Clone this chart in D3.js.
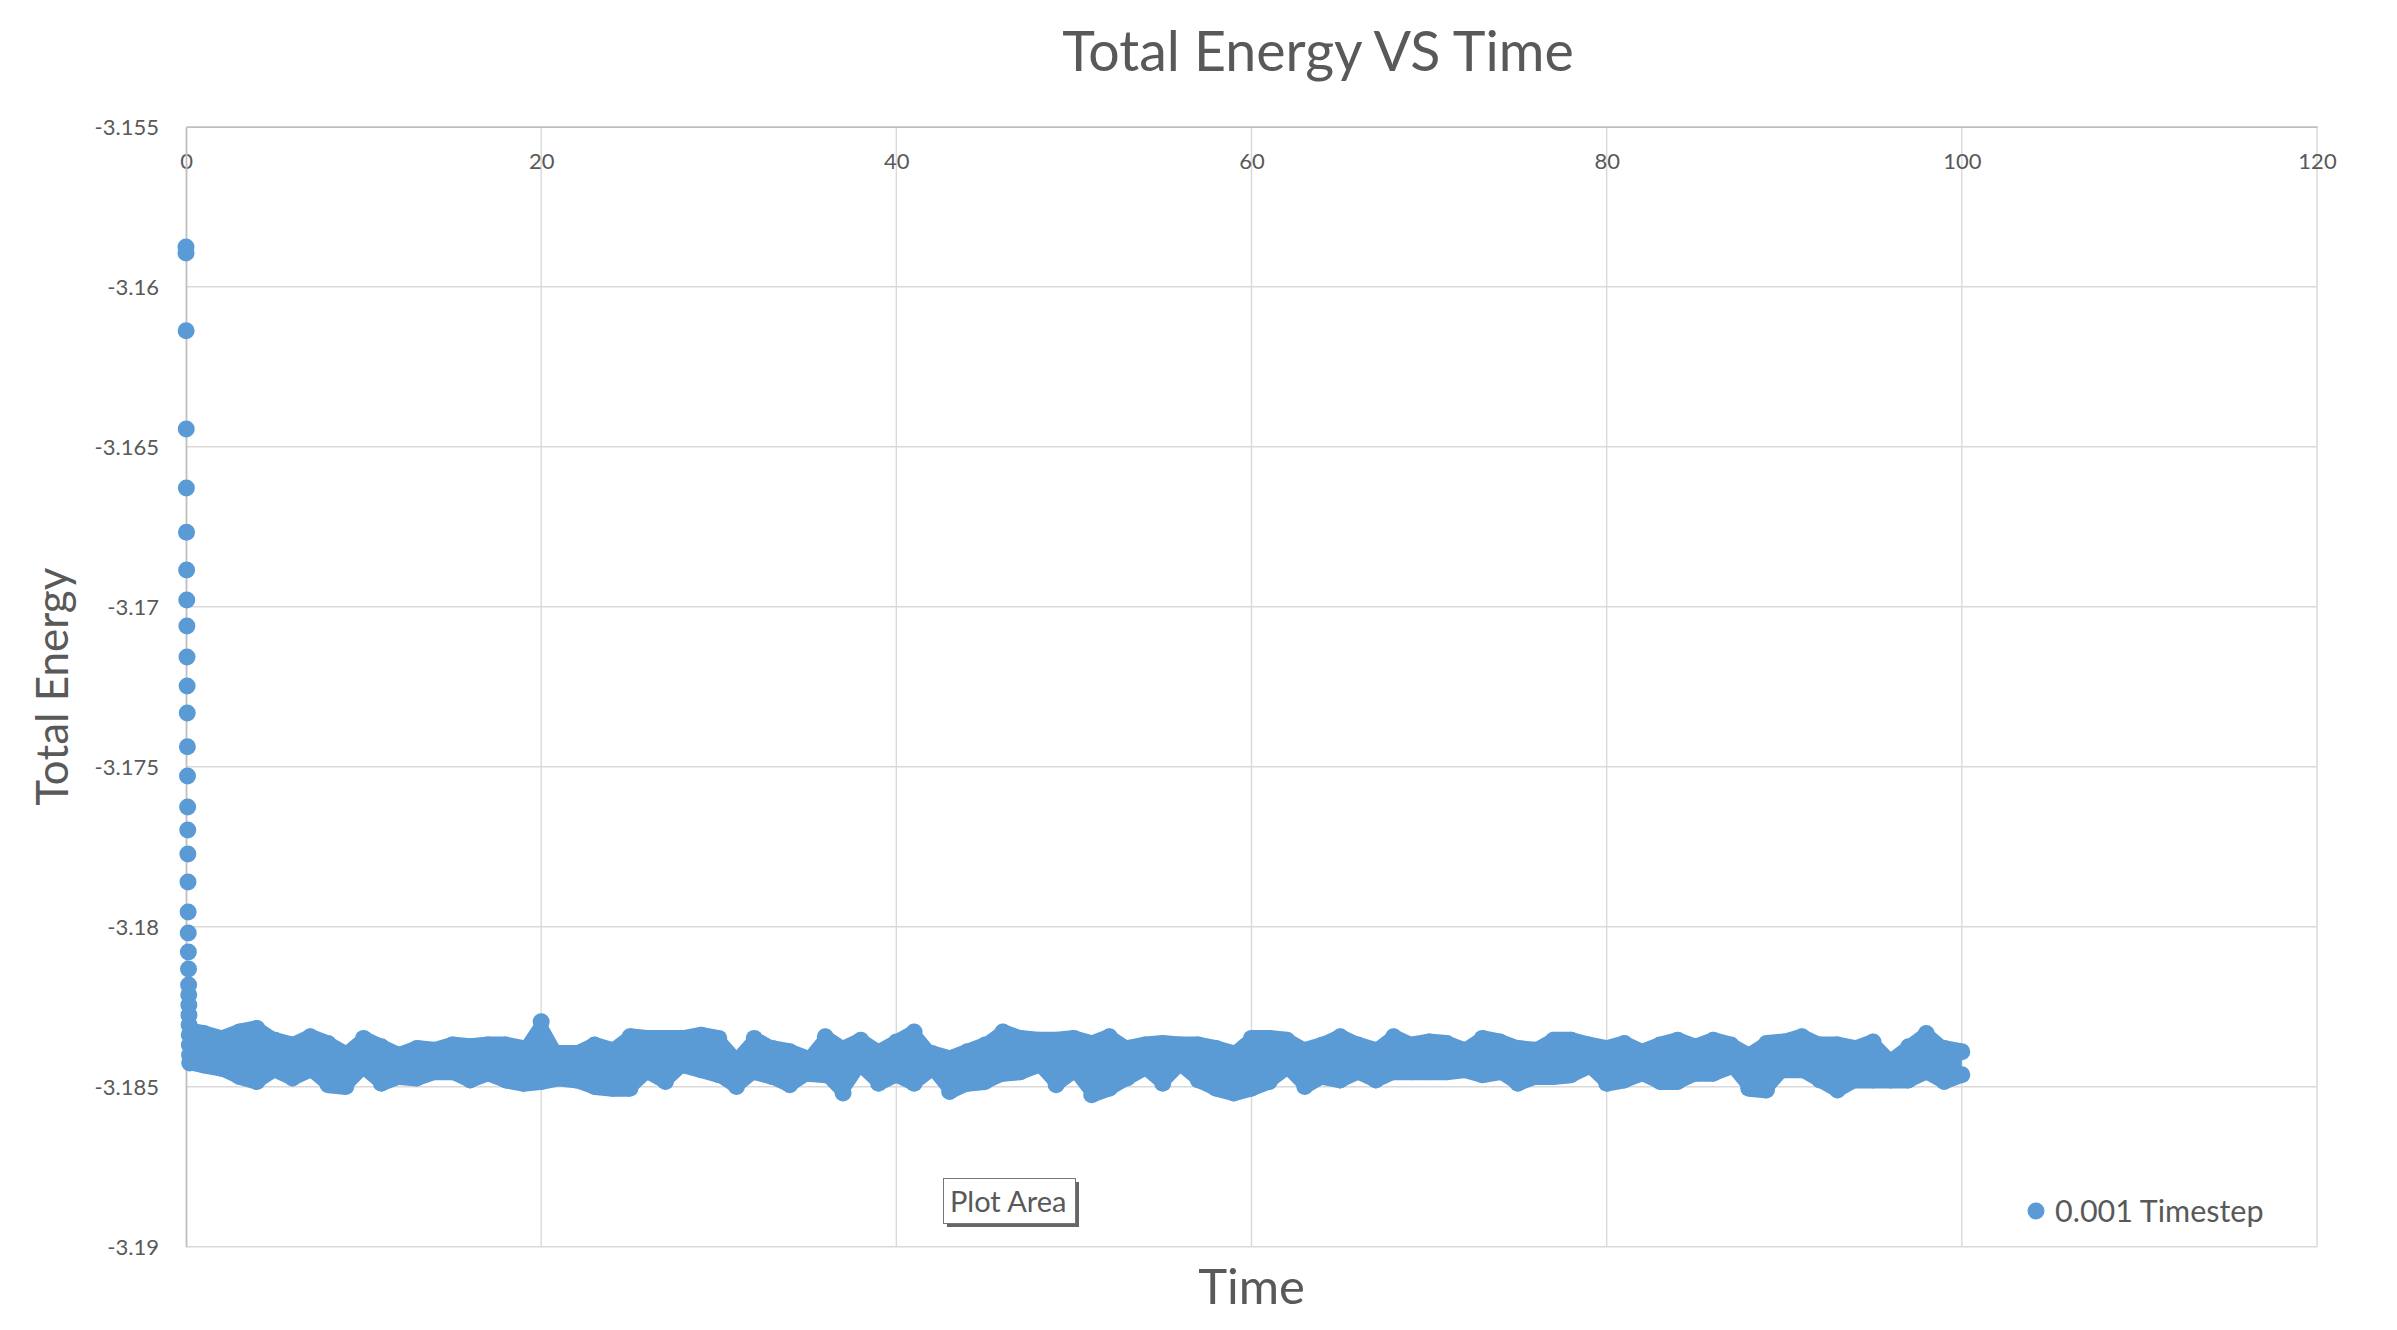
<!DOCTYPE html>
<html>
<head>
<meta charset="utf-8">
<script src="https://cdn.jsdelivr.net/npm/d3@7"></script>
<style>
  body { margin: 0; background: #fff; }
  text { font-family: Lato, "Noto Sans", sans-serif; fill: #595959; }
</style>
</head>
<body>
<svg id="chart" width="2397" height="1330"></svg>
<script>
// initial transient, read point by point
var transientTime = [0.000, 0.001, 0.007, 0.014, 0.021, 0.028, 0.035, 0.042, 0.049, 0.056,
  0.063, 0.070, 0.077, 0.084, 0.091, 0.098, 0.105, 0.112, 0.119, 0.126,
  0.133, 0.140, 0.147, 0.154, 0.161, 0.168, 0.175, 0.182, 0.190, 0.200, 0.210];
var transientEnergy = [-3.15876, -3.15895, -3.16138, -3.16445, -3.16629, -3.16767, -3.16885, -3.16979, -3.17060, -3.17157,
  -3.17248, -3.17332, -3.17438, -3.17529, -3.17626, -3.17698, -3.17773, -3.17860, -3.17954, -3.18020,
  -3.18079, -3.18132, -3.18182, -3.18213, -3.18245, -3.18276, -3.18307, -3.18338, -3.18370, -3.18401, -3.18426];

// dense fluctuating part: upper and lower envelope of the points, one reading per time unit
var bandTime = [0.5, 1, 2, 3, 4, 5, 6, 7, 8, 9, 10, 11, 12, 13, 14, 15, 16, 17, 18, 19, 20,
  21, 22, 23, 24, 25, 26, 27, 28, 29, 30, 31, 32, 33, 34, 35, 36, 37, 38, 39, 40,
  41, 42, 43, 44, 45, 46, 47, 48, 49, 50, 51, 52, 53, 54, 55, 56, 57, 58, 59, 60,
  61, 62, 63, 64, 65, 66, 67, 68, 69, 70, 71, 72, 73, 74, 75, 76, 77, 78, 79, 80,
  81, 82, 83, 84, 85, 86, 87, 88, 89, 90, 91, 92, 93, 94, 95, 96, 97, 98, 99, 100];
var bandHigh = [-3.18329, -3.18334, -3.18349, -3.18329, -3.18318, -3.18355, -3.18370, -3.18344, -3.18365, -3.18396, -3.18349,
  -3.18375, -3.18401, -3.18381, -3.18386, -3.18370, -3.18375, -3.18370, -3.18370, -3.18381, -3.18297,
  -3.18396, -3.18396, -3.18370, -3.18386, -3.18344, -3.18349, -3.18349, -3.18349, -3.18339, -3.18349,
  -3.18412, -3.18349, -3.18381, -3.18391, -3.18412, -3.18344, -3.18381, -3.18355, -3.18391, -3.18360,
  -3.18329, -3.18396, -3.18412, -3.18391, -3.18370, -3.18329, -3.18349, -3.18355, -3.18355, -3.18349,
  -3.18365, -3.18344, -3.18381, -3.18370, -3.18365, -3.18370, -3.18370, -3.18381, -3.18396, -3.18349,
  -3.18349, -3.18355, -3.18386, -3.18370, -3.18344, -3.18370, -3.18386, -3.18344, -3.18370, -3.18360,
  -3.18365, -3.18386, -3.18349, -3.18360, -3.18381, -3.18386, -3.18355, -3.18355, -3.18370, -3.18381,
  -3.18365, -3.18391, -3.18370, -3.18355, -3.18375, -3.18355, -3.18370, -3.18401, -3.18365, -3.18360,
  -3.18344, -3.18370, -3.18370, -3.18381, -3.18360, -3.18417, -3.18375, -3.18334, -3.18381, -3.18391];
var bandLow = [-3.18426, -3.18432, -3.18442, -3.18468, -3.18484, -3.18447, -3.18473, -3.18447, -3.18494, -3.18499, -3.18442,
  -3.18489, -3.18468, -3.18473, -3.18453, -3.18453, -3.18479, -3.18458, -3.18479, -3.18489, -3.18484,
  -3.18473, -3.18479, -3.18499, -3.18505, -3.18505, -3.18453, -3.18484, -3.18432, -3.18447, -3.18463,
  -3.18499, -3.18453, -3.18468, -3.18494, -3.18458, -3.18463, -3.18520, -3.18437, -3.18489, -3.18463,
  -3.18489, -3.18447, -3.18515, -3.18489, -3.18484, -3.18458, -3.18453, -3.18432, -3.18494, -3.18453,
  -3.18525, -3.18505, -3.18473, -3.18442, -3.18489, -3.18432, -3.18479, -3.18505, -3.18520, -3.18505,
  -3.18484, -3.18442, -3.18499, -3.18468, -3.18479, -3.18453, -3.18479, -3.18453, -3.18453, -3.18453,
  -3.18453, -3.18447, -3.18463, -3.18453, -3.18489, -3.18468, -3.18468, -3.18463, -3.18437, -3.18489,
  -3.18479, -3.18458, -3.18484, -3.18484, -3.18458, -3.18458, -3.18437, -3.18505, -3.18510, -3.18447,
  -3.18447, -3.18479, -3.18510, -3.18479, -3.18479, -3.18479, -3.18479, -3.18453, -3.18484, -3.18463];

var xTicks = [0, 20, 40, 60, 80, 100, 120];
var yTicks = [-3.155, -3.16, -3.165, -3.17, -3.175, -3.18, -3.185, -3.19];
var seriesName = "0.001 Timestep";

var svg = d3.select("#chart"),
	margin = {top: 126.7, right: 80, bottom: 83.3, left: 186},
	width = svg.attr("width") - margin.left - margin.right,
	height = svg.attr("height") - margin.top - margin.bottom,
	g = svg.append("g").attr("transform", "translate(" + margin.left + "," + margin.top + ")");

var blue = "#5b9bd5",
	r = 8.5;

var x = d3.scaleLinear()
	.domain([0, 120])
	.range([0, width]);

var y = d3.scaleLinear()
	.domain([-3.19, -3.155])
	.range([height, 0]);

// gridlines
g.append("g")
	.attr("class", "grid")
	.selectAll("line.h")
	.data(yTicks.slice(1))
	.enter().append("line")
	.attr("x1", 0)
	.attr("x2", width)
	.attr("y1", function(d) { return y(d); })
	.attr("y2", function(d) { return y(d); })
	.attr("stroke", "#d9d9d9")
	.attr("stroke-width", 1.4);

g.append("g")
	.attr("class", "grid")
	.selectAll("line.v")
	.data(xTicks.slice(1))
	.enter().append("line")
	.attr("x1", function(d) { return x(d); })
	.attr("x2", function(d) { return x(d); })
	.attr("y1", 0)
	.attr("y2", height)
	.attr("stroke", "#d9d9d9")
	.attr("stroke-width", 1.4);

// x axis sits on the top edge, labels below the line
var xAxis = g.append("g")
	.attr("class", "axis axis--x")
	.call(d3.axisBottom(x).tickValues(xTicks).tickSize(0).tickPadding(0));
xAxis.select(".domain").attr("stroke", "#bfbfbf").attr("stroke-width", 1.8);
xAxis.selectAll("text")
	.attr("y", 42)
	.attr("dy", null)
	.style("font-size", "22px")
	.style("fill", "#595959");

var yAxis = g.append("g")
	.attr("class", "axis axis--y")
	.call(d3.axisLeft(y).tickValues(yTicks).tickSize(0).tickPadding(27)
		.tickFormat(function(d) { return String(d); }));
yAxis.select(".domain").attr("stroke", "#bfbfbf").attr("stroke-width", 1.8);
yAxis.selectAll("text")
	.attr("dy", "0.35em")
	.style("font-size", "22px")
	.style("fill", "#595959");

// dense band of points
var band = bandTime.map(function(t, i) {
	return {t: t, hi: bandHigh[i], lo: bandLow[i]};
});

var area = d3.area()
	.x(function(d) { return x(d.t); })
	.y0(function(d) { return y(d.lo) + r; })
	.y1(function(d) { return y(d.hi) - r; });

g.append("path")
	.datum(band)
	.attr("fill", blue)
	.attr("d", area);

g.append("g")
	.selectAll("circle")
	.data(band.map(function(d) { return [d.t, d.hi]; })
		.concat(band.map(function(d) { return [d.t, d.lo]; })))
	.enter().append("circle")
	.attr("cx", function(d) { return x(d[0]); })
	.attr("cy", function(d) { return y(d[1]); })
	.attr("r", r)
	.attr("fill", blue);

g.append("g")
	.selectAll("circle")
	.data(transientTime.map(function(t, i) { return [t, transientEnergy[i]]; }))
	.enter().append("circle")
	.attr("cx", function(d) { return x(d[0]); })
	.attr("cy", function(d) { return y(d[1]); })
	.attr("r", r)
	.attr("fill", blue);

// titles
svg.append("text")
	.attr("x", 1318)
	.attr("y", 71)
	.style("text-anchor", "middle")
	.style("font-size", "55.5px")
	.text("Total Energy VS Time");

svg.append("text")
	.attr("transform", "translate(68," + (margin.top + height / 2) + ") rotate(-90)")
	.style("text-anchor", "middle")
	.style("font-size", "44px")
	.text("Total Energy");

svg.append("text")
	.attr("x", margin.left + width / 2)
	.attr("y", 1304)
	.style("text-anchor", "middle")
	.style("font-size", "49px")
	.text("Time");

// legend
var legend = svg.append("g")
	.attr("transform", "translate(2036,1211)");
legend.append("circle")
	.attr("r", r)
	.attr("fill", blue);
legend.append("text")
	.attr("x", 19)
	.attr("y", 10.5)
	.style("font-size", "30.5px")
	.text(seriesName);

// hover tooltip box
var tip = svg.append("g")
	.attr("transform", "translate(943,1178)");
tip.append("rect")
	.attr("x", 4)
	.attr("y", 4)
	.attr("width", 132)
	.attr("height", 45)
	.attr("fill", "#666");
tip.append("rect")
	.attr("x", 0.5)
	.attr("y", 0.5)
	.attr("width", 132)
	.attr("height", 45)
	.attr("fill", "#fff")
	.attr("stroke", "#767676");
tip.append("text")
	.attr("x", 7)
	.attr("y", 34)
	.style("font-size", "29px")
	.text("Plot Area");
</script>
</body>
</html>
